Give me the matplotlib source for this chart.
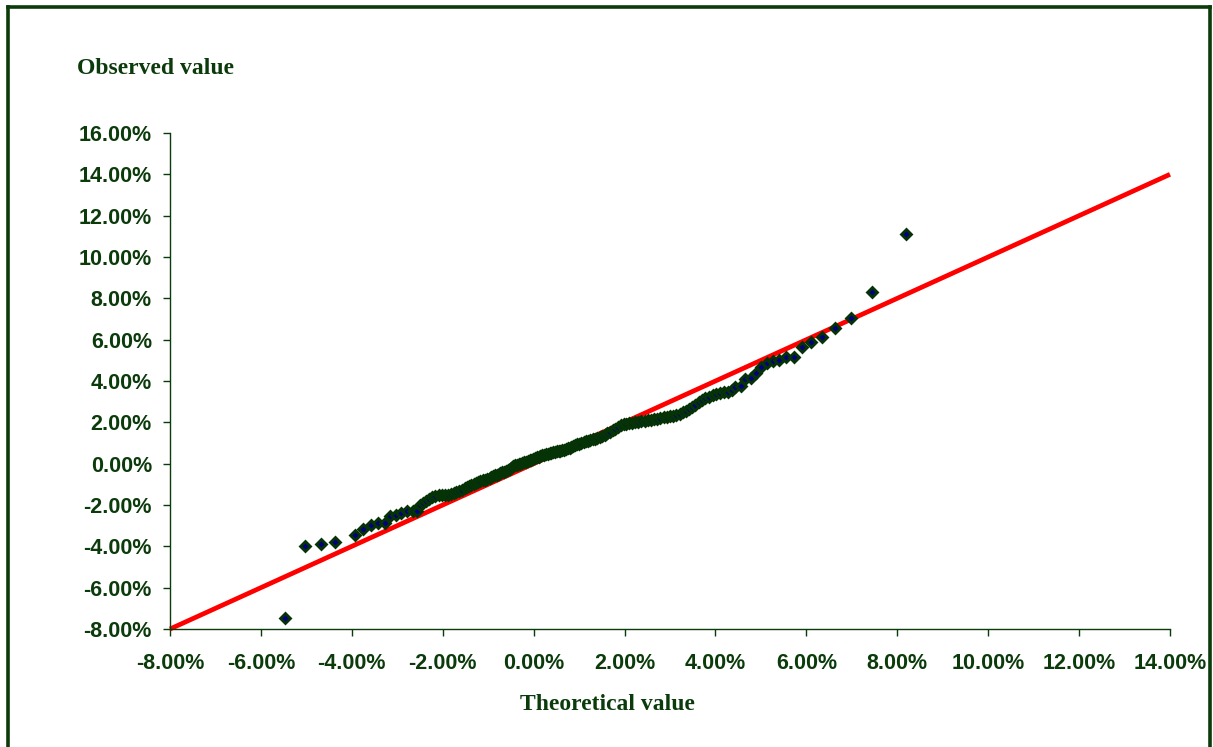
import matplotlib
matplotlib.use("Agg")
import matplotlib.pyplot as plt
from matplotlib.lines import Line2D

# Theoretical (x) and observed (y) values, in percent
theoretical = [
    -5.47, -5.03, -4.67, -4.38, -3.94, -3.75, -3.58, -3.42, -3.28, -3.15,
    -3.03, -2.91, -2.78, -2.66, -2.57, -2.51, -2.44, -2.37, -2.30, -2.23,
    -2.16, -2.09, -2.02, -1.95, -1.88, -1.82, -1.76, -1.70, -1.64, -1.58,
    -1.52, -1.47, -1.42, -1.37, -1.32, -1.27, -1.22, -1.17, -1.12, -1.07,
    -1.02, -0.97, -0.93, -0.89, -0.85, -0.81, -0.77, -0.73, -0.69, -0.65,
    -0.61, -0.57, -0.53, -0.49, -0.45, -0.41, -0.37, -0.33, -0.29, -0.25,
    -0.21, -0.17, -0.13, -0.09, -0.05, -0.01, 0.03, 0.07, 0.11, 0.15,
    0.19, 0.23, 0.27, 0.31, 0.35, 0.39, 0.43, 0.47, 0.51, 0.55,
    0.59, 0.63, 0.67, 0.71, 0.75, 0.79, 0.83, 0.87, 0.91, 0.95,
    1.00, 1.05, 1.10, 1.15, 1.20, 1.25, 1.30, 1.35, 1.40, 1.45,
    1.50, 1.56, 1.62, 1.68, 1.74, 1.80, 1.86, 1.92, 1.98, 2.04,
    2.10, 2.16, 2.23, 2.30, 2.37, 2.44, 2.51, 2.58, 2.65, 2.72,
    2.79, 2.86, 2.93, 3.00, 3.07, 3.14, 3.21, 3.28, 3.35, 3.42,
    3.49, 3.56, 3.63, 3.70, 3.78, 3.86, 3.94, 4.02, 4.10, 4.18,
    4.28, 4.36, 4.44, 4.56, 4.66, 4.78, 4.89, 5.01, 5.14, 5.26,
    5.39, 5.55, 5.72, 5.90, 6.11, 6.35, 6.62, 6.98, 7.45, 8.19,
]
observed = [
    -7.47, -4.00, -3.90, -3.80, -3.45, -3.14, -2.96, -2.87, -2.85, -2.54,
    -2.46, -2.40, -2.30, -2.29, -2.31, -2.02, -1.90, -1.80, -1.71, -1.63,
    -1.56, -1.53, -1.52, -1.52, -1.51, -1.47, -1.43, -1.37, -1.31, -1.25,
    -1.19, -1.13, -1.06, -1.01, -0.96, -0.92, -0.88, -0.85, -0.81, -0.77,
    -0.73, -0.68, -0.64, -0.60, -0.57, -0.54, -0.50, -0.46, -0.42, -0.39,
    -0.36, -0.32, -0.27, -0.20, -0.13, -0.08, -0.05, -0.03, 0.00, 0.03,
    0.06, 0.09, 0.13, 0.16, 0.19, 0.22, 0.26, 0.30, 0.33, 0.37,
    0.40, 0.43, 0.45, 0.48, 0.50, 0.52, 0.55, 0.58, 0.60, 0.62,
    0.63, 0.65, 0.68, 0.70, 0.74, 0.78, 0.83, 0.87, 0.90, 0.93,
    0.97, 1.01, 1.05, 1.08, 1.11, 1.14, 1.17, 1.21, 1.25, 1.30,
    1.35, 1.41, 1.48, 1.55, 1.62, 1.70, 1.78, 1.85, 1.90, 1.94,
    1.97, 1.99, 2.02, 2.04, 2.06, 2.08, 2.10, 2.12, 2.15, 2.18,
    2.21, 2.24, 2.27, 2.30, 2.33, 2.37, 2.42, 2.49, 2.57, 2.66,
    2.76, 2.86, 2.97, 3.07, 3.16, 3.24, 3.31, 3.37, 3.41, 3.45,
    3.48, 3.55, 3.70, 3.76, 4.08, 4.14, 4.40, 4.69, 4.88, 4.95,
    5.01, 5.14, 5.14, 5.63, 5.89, 6.11, 6.56, 7.03, 8.30, 11.11,
]
# Reference line y = x
line_x = [-8.0, 14.0]
line_y = [-8.0, 14.0]

x_ticks = [-8, -6, -4, -2, 0, 2, 4, 6, 8, 10, 12, 14]
y_ticks = [-8, -6, -4, -2, 0, 2, 4, 6, 8, 10, 12, 14, 16]

GREEN = "#0b3b0b"

fig = plt.figure(figsize=(12.13, 7.47), dpi=100)
fig.patch.set_facecolor("white")
ax = fig.add_axes([170 / 1213, 1 - 629 / 747, 1000 / 1213, 496 / 747])

ax.plot(line_x, line_y, color="#ff0000", lw=3.4, solid_capstyle="butt",
        zorder=2, clip_on=False)
ax.plot(theoretical, observed, linestyle="none", marker="D", ms=5.0,
        mfc="#000080", mec="#063306", mew=2.0, zorder=3, clip_on=False)

ax.set_xlim(-8, 14)
ax.set_ylim(-8, 16)
ax.set_xticks(x_ticks)
ax.set_yticks(y_ticks)
ax.set_xticklabels([f"{v:.2f}%" for v in x_ticks])
ax.set_yticklabels([f"{v:.2f}%" for v in y_ticks])

for s in ["top", "right"]:
    ax.spines[s].set_visible(False)
for s in ["left", "bottom"]:
    ax.spines[s].set_color(GREEN)
    ax.spines[s].set_linewidth(1.0)

ax.tick_params(axis="both", direction="out", length=5, width=1.0,
               color=GREEN, labelcolor=GREEN)
ax.tick_params(axis="y", pad=8)
ax.tick_params(axis="x", pad=12)
for lab in ax.get_xticklabels() + ax.get_yticklabels():
    lab.set_fontfamily("Liberation Sans")
    lab.set_fontweight("bold")
    lab.set_fontsize(15.5)

fig.text(77 / 1213, 1 - 68 / 747, "Observed value", family="Liberation Serif",
         weight="bold", fontsize=17, color=GREEN, ha="left", va="center")
fig.text(607 / 1213, 1 - 705 / 747, "Theoretical value", family="Liberation Serif",
         weight="bold", fontsize=17, color=GREEN, ha="center", va="center")

# Outer frame (bottom edge lies below the visible area)
fx0, fx1 = 7.5 / 1213, 1210 / 1213
fy1 = 1 - 7 / 747
for xs, ys in [([fx0, fx0], [-0.05, fy1]), ([fx0, fx1], [fy1, fy1]),
               ([fx1, fx1], [fy1, -0.05])]:
    fig.add_artist(Line2D(xs, ys, transform=fig.transFigure, color="#0b3b0b",
                          lw=2.6, solid_capstyle="projecting"))

fig.savefig("out.png", dpi=100, facecolor="white")
